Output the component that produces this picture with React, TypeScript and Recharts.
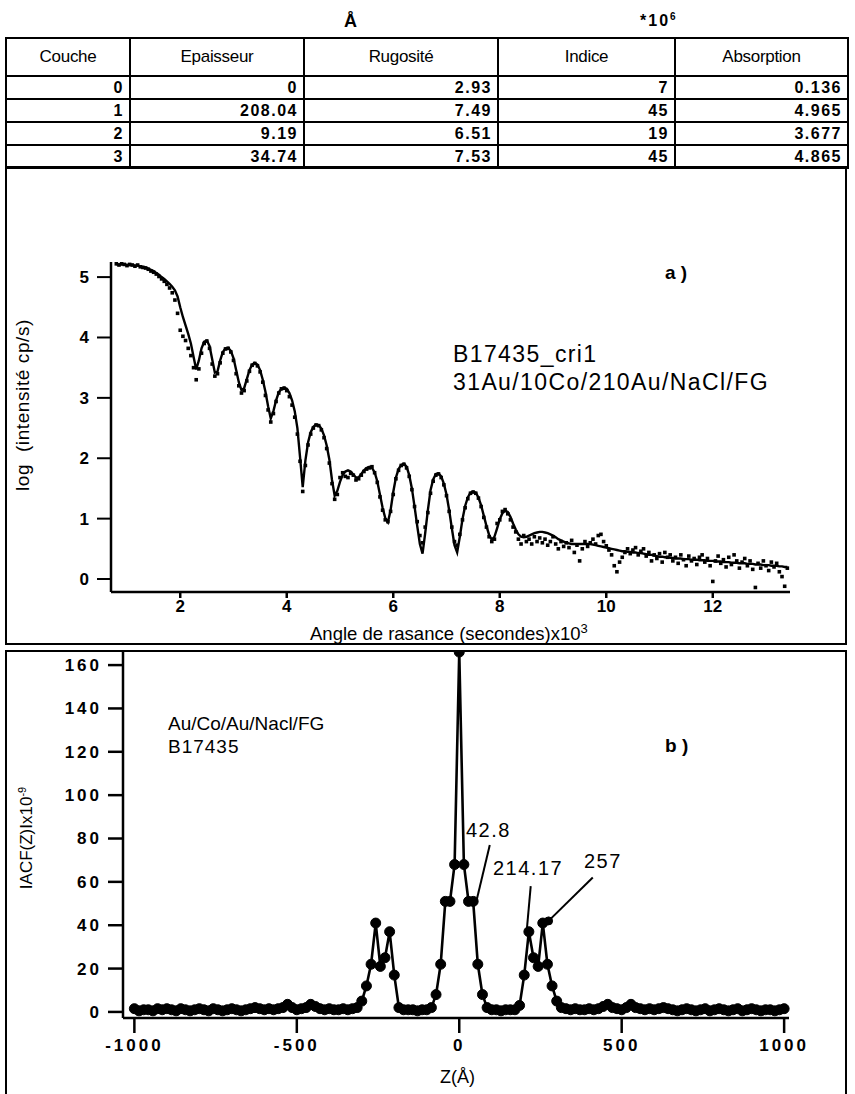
import React from 'react';
import { ComposedChart, LineChart, Line, XAxis, YAxis, ReferenceLine, ReferenceDot } from 'recharts';

// ---- table (top) ----
const layerIds = ['0', '1', '2', '3'];
const thickness = ['0', '208.04', '9.19', '34.74'];
const roughness = ['2.93', '7.49', '6.51', '7.53'];
const indexValues = ['7', '45', '19', '45'];
const absorption = ['0.136', '4.965', '3.677', '4.865'];
const tableHeaders = ['Couche', 'Epaisseur', 'Rugosité', 'Indice', 'Absorption'];

// ---- a) reflectivity, grazing angle x10^3 s, grid of 0.05 from 0.80 ----
const ANGLE_START = 0.8;
const ANGLE_STEP = 0.05;
const angleTicks = [2, 4, 6, 8, 10, 12];
const logTicks = [0, 1, 2, 3, 4, 5];

// fitted curve
const fitLog = [
  5.21, 5.21, 5.21, 5.21, 5.20, 5.20, 5.20, 5.19, 5.19, 5.18,
  5.17, 5.16, 5.14, 5.12, 5.10, 5.07, 5.04, 5.00, 4.97, 4.93,
  4.89, 4.84, 4.78, 4.68, 4.50, 4.34, 4.20, 4.06, 3.90, 3.68,
  3.47, 3.62, 3.82, 3.93, 3.95, 3.86, 3.64, 3.42, 3.44, 3.62,
  3.76, 3.82, 3.83, 3.78, 3.66, 3.46, 3.26, 3.13, 3.16, 3.31,
  3.46, 3.55, 3.58, 3.55, 3.46, 3.30, 3.10, 2.86, 2.66, 2.78,
  2.96, 3.09, 3.15, 3.17, 3.15, 3.08, 2.96, 2.78, 2.50, 2.02,
  1.52, 1.96, 2.26, 2.43, 2.52, 2.56, 2.55, 2.49, 2.38, 2.21,
  1.98, 1.64, 1.38, 1.46, 1.61, 1.72, 1.78, 1.80, 1.78, 1.73,
  1.68, 1.68, 1.74, 1.80, 1.84, 1.86, 1.84, 1.77, 1.62, 1.40,
  1.18, 1.01, 0.94, 1.14, 1.44, 1.68, 1.82, 1.89, 1.91, 1.86,
  1.72, 1.50, 1.20, 0.88, 0.58, 0.42, 0.76, 1.14, 1.47, 1.65,
  1.74, 1.75, 1.70, 1.58, 1.40, 1.14, 0.84, 0.56, 0.44, 0.70,
  0.99, 1.21, 1.35, 1.43, 1.45, 1.43, 1.35, 1.22, 1.05, 0.88,
  0.73, 0.65, 0.70, 0.84, 0.99, 1.09, 1.13, 1.11, 1.03, 0.92,
  0.82, 0.74, 0.70, 0.69, 0.70, 0.72, 0.74, 0.76, 0.77, 0.78,
  0.78, 0.77, 0.76, 0.74, 0.72, 0.69, 0.66, 0.64, 0.62, 0.60,
  0.59, 0.58, 0.58, 0.58, 0.58, 0.58, 0.58, 0.58, 0.58, 0.57,
  0.56, 0.55, 0.54, 0.53, 0.52, 0.51, 0.50, 0.49, 0.48, 0.47,
  0.46, 0.46, 0.45, 0.45, 0.44, 0.44, 0.43, 0.43, 0.42, 0.41,
  0.40, 0.40, 0.39, 0.38, 0.37, 0.37, 0.36, 0.36, 0.35, 0.35,
  0.34, 0.34, 0.34, 0.33, 0.33, 0.33, 0.32, 0.32, 0.32, 0.31,
  0.31, 0.31, 0.30, 0.30, 0.30, 0.29, 0.29, 0.29, 0.28, 0.28,
  0.28, 0.27, 0.27, 0.27, 0.26, 0.26, 0.26, 0.25, 0.25, 0.25,
  0.24, 0.24, 0.24, 0.23, 0.23, 0.23, 0.22, 0.22, 0.22, 0.21,
  0.21, 0.20, 0.20,
];

// measured points
const measuredLog = [
  5.22, 5.20, 5.22, 5.21, 5.19, 5.21, 5.20, 5.18, 5.20, 5.17,
  5.16, 5.15, 5.13, 5.10, 5.08, 5.05, 5.01, 4.97, 4.93, 4.88,
  4.82, 4.74, 4.62, 4.40, 4.12, 4.02, 3.95, 3.82, 3.70, 3.50,
  3.30, 3.48, 3.74, 3.90, 3.94, 3.82, 3.56, 3.36, 3.40, 3.58,
  3.74, 3.81, 3.82, 3.76, 3.62, 3.40, 3.20, 3.08, 3.12, 3.28,
  3.44, 3.54, 3.57, 3.53, 3.43, 3.26, 3.04, 2.80, 2.60, 2.74,
  2.94, 3.08, 3.15, 3.16, 3.12, 3.02, 2.88, 2.68, 2.40, 1.95,
  1.45, 1.88, 2.22, 2.40, 2.50, 2.55, 2.54, 2.47, 2.34, 2.16,
  1.92, 1.58, 1.32, 1.40, 1.68, 1.76, 1.70, 1.68, 1.75, 1.72,
  1.64, 1.66, 1.72, 1.78, 1.82, 1.84, 1.86, 1.76, 1.60, 1.36,
  1.14, 0.98, 0.95, 1.12, 1.40, 1.66, 1.80, 1.88, 1.90, 1.84,
  1.70, 1.48, 1.20, 0.95, 0.72, 0.60, 0.86, 1.10, 1.42, 1.62,
  1.72, 1.74, 1.68, 1.56, 1.38, 1.12, 0.86, 0.62, 0.56, 0.74,
  0.98, 1.18, 1.33, 1.42, 1.44, 1.42, 1.34, 1.20, 1.02, 0.86,
  0.70, 0.62, 0.66, 0.92, 0.98, 1.12, 1.15, 1.08, 0.98, 0.86,
  0.78, 0.66, 0.58, 0.72, 0.62, 0.66, 0.58, 0.70, 0.62, 0.68,
  0.60, 0.66, 0.56, 0.62, 0.70, 0.58, 0.50, 0.62, 0.54, 0.60,
  0.52, 0.64, 0.44, 0.56, 0.30, 0.50, 0.62, 0.54, 0.60, 0.66,
  0.58, 0.72, 0.74, 0.62, 0.55, 0.48, 0.40, 0.22, 0.12, 0.28,
  0.36, 0.44, 0.50, 0.42, 0.48, 0.52, 0.40, 0.46, 0.50, 0.38,
  0.44, 0.30, 0.40, 0.34, 0.42, 0.28, 0.44, 0.36, 0.40, 0.30,
  0.36, 0.26, 0.40, 0.32, 0.22, 0.38, 0.30, 0.34, 0.24, 0.36,
  0.40, 0.28, 0.34, 0.22, -0.04, 0.30, 0.38, 0.26, 0.32, 0.20,
  0.36, 0.24, 0.40, 0.30, 0.18, 0.28, 0.34, 0.22, 0.30, 0.16,
  -0.14, 0.26, 0.18, 0.30, 0.22, 0.14, 0.28, 0.20, 0.26, 0.12,
  0.04, -0.12, 0.18,
];

// ---- b) autocorrelation, Z grid of 1000/70 Å from -1000 ----
const Z_START = -1000;
const Z_STEP = 1000 / 70;
const zTicks = [-1000, -500, 0, 500, 1000];
const acfTicks = [0, 20, 40, 60, 80, 100, 120, 140, 160];
const acfValues = [
  1.5, 0.5, 1, 1, 0.5, 1.5, 1, 1.5, 1, 0.5,
  1.5, 1, 0.5, 1, 1.5, 1, 0.5, 1.5, 1, 0.5,
  1, 1.5, 1, 0.5, 1, 1.5, 2, 1.5, 1, 1.5,
  1, 1.5, 2, 3.5, 2, 1, 1.5, 2, 3.5, 2.5,
  1.5, 1, 1.5, 1, 1, 1.5, 1, 1.5, 2, 5,
  12, 22, 41, 21, 25, 37, 17, 2, 1, 1,
  1, 0.5, 1, 1, 2, 8, 22, 51, 51, 68,
  166,
  68, 51, 51, 22, 8, 2, 1, 1, 0.5, 1,
  1, 1, 3, 17, 37, 25, 21, 41, 22, 12,
  5, 2, 1.5, 1, 1.5, 1, 1, 1.5, 1, 1.5,
  2.5, 3.5, 2, 1.5, 1, 2, 3.5, 2, 1.5, 1,
  1.5, 1, 1.5, 2, 1.5, 1, 0.5, 1, 1.5, 1,
  0.5, 1, 1.5, 0.5, 1, 1.5, 1, 0.5, 1, 1.5,
  0.5, 1, 1.5, 1, 0.5, 1, 1, 0.5, 1, 1.5,
];

const reflectivityData = fitLog.map((fit, i) => ({
  angle: +(ANGLE_START + i * ANGLE_STEP).toFixed(2),
  fit,
  measured: measuredLog[i],
}));

const acfData = acfValues.map((acf, i) => ({
  z: Z_START + i * Z_STEP,
  acf,
}));

const FONT = "'Liberation Sans', Arial, Helvetica, sans-serif";

const makeTick = (fontSize: number, spacing: number, vertical: boolean) => (props: any) => {
  const { x, y, payload, textAnchor } = props;
  return (
    <text
      x={x}
      y={y}
      dy={vertical ? '0.35em' : '0.71em'}
      textAnchor={textAnchor}
      fontSize={fontSize}
      fontWeight="bold"
      letterSpacing={spacing}
      fontFamily={FONT}
      fill="#000"
    >
      {payload.value}
    </text>
  );
};

const SquareDot = (props: any) => {
  const { cx, cy, index } = props;
  if (cx == null || cy == null) return <g key={`m-${index}`} />;
  return <rect key={`m-${index}`} x={cx - 1.8} y={cy - 1.8} width={3.6} height={3.6} fill="#000" />;
};

const cellStyle: React.CSSProperties = {
  border: '2px solid #000',
  padding: '0 5px 0 0',
  textAlign: 'right',
  fontWeight: 'bold',
  fontSize: 16,
  letterSpacing: 1.5,
  height: 21,
};

const headStyle: React.CSSProperties = {
  border: '2px solid #000',
  textAlign: 'center',
  fontFamily: "'Liberation Sans Narrow', 'Liberation Sans', Arial, sans-serif",
  fontSize: 17,
  fontWeight: 'normal',
  height: 34,
  letterSpacing: -0.3,
};

const abs = (left: number, top: number, extra: React.CSSProperties = {}): React.CSSProperties => ({
  position: 'absolute',
  left,
  top,
  whiteSpace: 'nowrap',
  lineHeight: 1,
  ...extra,
});

export default function App() {
  const columns = [layerIds, thickness, roughness, indexValues, absorption];
  const colWidths = [124, 174, 194, 177, 173];

  return (
    <div
      style={{
        position: 'absolute',
        left: 0,
        top: 0,
        width: 855,
        height: 1094,
        background: '#fff',
        fontFamily: FONT,
        color: '#000',
        overflow: 'hidden',
      }}
    >
      {/* units above the table */}
      <div style={abs(344, 12, { fontSize: 18, fontWeight: 'bold' })}>Å</div>
      <div style={abs(640, 12, { fontSize: 16, fontWeight: 'bold', letterSpacing: 2 })}>
        *10<sup style={{ fontSize: 10 }}>6</sup>
      </div>

      <table
        style={{
          position: 'absolute',
          left: 5,
          top: 37,
          width: 842,
          borderCollapse: 'collapse',
          tableLayout: 'fixed',
          fontFamily: FONT,
        }}
      >
        <colgroup>
          {colWidths.map((w, i) => (
            <col key={i} style={{ width: w }} />
          ))}
        </colgroup>
        <thead>
          <tr>
            {tableHeaders.map((h) => (
              <th key={h} style={headStyle}>
                {h}
              </th>
            ))}
          </tr>
        </thead>
        <tbody>
          {layerIds.map((_, r) => (
            <tr key={r}>
              {columns.map((col, c) => (
                <td key={c} style={cellStyle}>
                  {col[r]}
                </td>
              ))}
            </tr>
          ))}
        </tbody>
      </table>

      {/* panel a */}
      <div
        style={{
          position: 'absolute',
          left: 5,
          top: 166,
          width: 842,
          height: 479,
          border: '2px solid #000',
          boxSizing: 'border-box',
        }}
      />
      <div style={{ position: 'absolute', left: 0, top: 166 }}>
        <ComposedChart
          width={855}
          height={477}
          data={reflectivityData}
          margin={{ top: 96, right: 65, bottom: 21, left: 0 }}
        >
          <XAxis
            type="number"
            dataKey="angle"
            domain={[0.7, 13.45]}
            ticks={angleTicks}
            axisLine={{ stroke: '#000', strokeWidth: 2.5 }}
            tickLine={{ stroke: '#000', strokeWidth: 2.5 }}
            tickSize={6}
            tickMargin={2}
            height={30}
            tick={makeTick(17, 0, false)}
          />
          <YAxis
            type="number"
            domain={[-0.215, 5.25]}
            ticks={logTicks}
            width={111}
            axisLine={{ stroke: '#000', strokeWidth: 2.5 }}
            tickLine={{ stroke: '#000', strokeWidth: 2 }}
            tickSize={14}
            tickMargin={8}
            tick={makeTick(17, 0, true)}
          />
          <Line
            type="linear"
            dataKey="fit"
            stroke="#000"
            strokeWidth={2.4}
            dot={false}
            isAnimationActive={false}
          />
          <Line
            type="linear"
            dataKey="measured"
            stroke="none"
            strokeWidth={0}
            dot={SquareDot}
            activeDot={false}
            isAnimationActive={false}
          />
        </ComposedChart>
      </div>
      <div style={abs(665, 263, { fontSize: 19, fontWeight: 'bold' })}>a )</div>
      <div style={abs(453, 343, { fontSize: 23, letterSpacing: 1.4 })}>B17435_cri1</div>
      <div style={abs(453, 371, { fontSize: 23, letterSpacing: 1.4 })}>31Au/10Co/210Au/NaCl/FG</div>
      <div style={abs(310, 622, { fontSize: 18.5 })}>
        Angle de rasance (secondes)x10<sup style={{ fontSize: 13 }}>3</sup>
      </div>
      <div
        style={abs(22, 405, {
          fontSize: 19,
          letterSpacing: 0.6,
          transform: 'translate(-50%, -50%) rotate(-90deg)',
        })}
      >
        log&nbsp; (intensité cp/s)
      </div>

      {/* panel b */}
      <div
        style={{
          position: 'absolute',
          left: 5,
          top: 650,
          width: 842,
          height: 470,
          border: '2px solid #000',
          boxSizing: 'border-box',
        }}
      />
      <div style={{ position: 'absolute', left: 0, top: 650 }}>
        <LineChart
          width={855}
          height={444}
          data={acfData}
          margin={{ top: 1, right: 66, bottom: 26, left: 0 }}
        >
          <XAxis
            type="number"
            dataKey="z"
            domain={[-1035, 1015]}
            ticks={zTicks}
            axisLine={{ stroke: '#000', strokeWidth: 2.5 }}
            tickLine={{ stroke: '#000', strokeWidth: 2.5 }}
            tickSize={15}
            tickMargin={6}
            height={50}
            tick={makeTick(17, 3, false)}
          />
          <YAxis
            type="number"
            domain={[-2.8, 166.5]}
            ticks={acfTicks}
            width={123}
            axisLine={{ stroke: '#000', strokeWidth: 2.5 }}
            tickLine={{ stroke: '#000', strokeWidth: 2.5 }}
            tickSize={15}
            tickMargin={6}
            tick={makeTick(17, 3, true)}
          />
          <Line
            type="linear"
            dataKey="acf"
            stroke="#000"
            strokeWidth={2.6}
            dot={{ r: 5, fill: '#000', stroke: '#000', strokeWidth: 1 }}
            activeDot={false}
            isAnimationActive={false}
          />
          <ReferenceLine segment={[{ x: 94, y: 77 }, { x: 51, y: 50 }]} stroke="#000" strokeWidth={2} ifOverflow="visible" />
          <ReferenceLine segment={[{ x: 220, y: 58 }, { x: 208, y: 38 }]} stroke="#000" strokeWidth={2} ifOverflow="visible" />
          <ReferenceLine segment={[{ x: 411, y: 62 }, { x: 275, y: 42 }]} stroke="#000" strokeWidth={2} ifOverflow="visible" />
          <ReferenceDot x={275} y={42} r={4} fill="#000" stroke="#000" ifOverflow="visible" />
        </LineChart>
      </div>
      <div style={abs(168, 714, { fontSize: 19 })}>Au/Co/Au/Nacl/FG</div>
      <div style={abs(168, 737, { fontSize: 19, letterSpacing: 1 })}>B17435</div>
      <div style={abs(665, 736, { fontSize: 19, fontWeight: 'bold' })}>b )</div>
      <div style={abs(466, 820, { fontSize: 20, letterSpacing: 1.5 })}>42.8</div>
      <div style={abs(493, 858, { fontSize: 20, letterSpacing: 1.5 })}>214.17</div>
      <div style={abs(584, 851, { fontSize: 20, letterSpacing: 1.5 })}>257</div>
      <div style={abs(440, 1068, { fontSize: 18 })}>Z(Å)</div>
      <div
        style={abs(26, 838, {
          fontSize: 17,
          transform: 'translate(-50%, -50%) rotate(-90deg)',
        })}
      >
        IACF(Z)Ix10<sup style={{ fontSize: 11 }}>-9</sup>
      </div>
    </div>
  );
}
